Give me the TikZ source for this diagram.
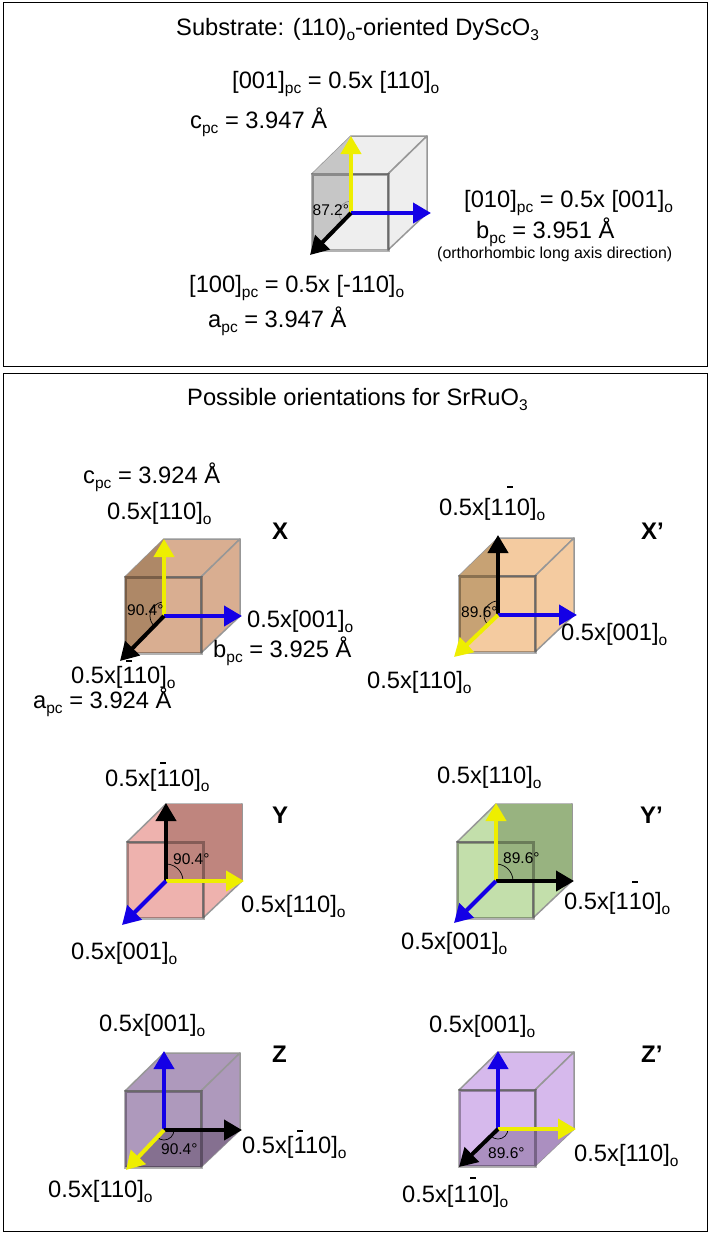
\documentclass[tikz,border=0pt]{standalone}
\usepackage{fontspec}
\setmainfont{Liberation Sans}
\usetikzlibrary{arrows.meta}
\definecolor{subfill}{HTML}{EEEEEE}\definecolor{subshade}{HTML}{C6C6C6}
\definecolor{xfill}{HTML}{D9AE91}\definecolor{xshade}{HTML}{AE8867}
\definecolor{xpfill}{HTML}{F4CBA0}\definecolor{xpshade}{HTML}{C7A274}
\definecolor{yfill}{HTML}{EEB2AE}\definecolor{yshade}{HTML}{BF857E}
\definecolor{ypfill}{HTML}{C3DFAB}\definecolor{ypshade}{HTML}{98B380}
\definecolor{zfill}{HTML}{AE99BC}\definecolor{zshade}{HTML}{857090}
\definecolor{zpfill}{HTML}{D6B9EC}\definecolor{zpshade}{HTML}{AB8FC0}
\definecolor{axyellow}{HTML}{EEEE00}\definecolor{axblue}{HTML}{1400E6}
\definecolor{cubegray}{HTML}{979797}
\tikzset{
  lbl/.style={anchor=base west,inner sep=0pt,font=\fontsize{23.7}{25}\selectfont},
  tag/.style={anchor=base west,inner sep=0pt,font=\fontsize{24}{26}\selectfont\bfseries},
  ang/.style={anchor=base west,inner sep=0pt,font=\fontsize{15.5}{17}\selectfont},
  axis/.style={line width=4pt,-{Triangle[width=20pt,length=18pt]},#1},
  anglearc/.style={line width=.7pt},
  panel/.style={draw=black,line width=1pt},
  thinedge/.style={draw=cubegray,line width=1.5pt,line join=round},
  frontedge/.style={draw=black,draw opacity=.3,line width=3pt}
}
\newcommand\subs[1]{\raisebox{-.22em}{\fontsize{15.5}{16}\selectfont #1}}
\newcommand\barone[1]{\rlap{\raisebox{#1pt}{\hspace{.15em}\rule{.26em}{1.6pt}}}1}
% name, left, top, fill, shade, corners of the shaded face
\newcommand\drawcube[9]{
  \begin{scope}[shift={(#2,#3)}]
    \coordinate (#1ftl) at (0,0); \coordinate (#1ftr) at (76,0);
    \coordinate (#1fbl) at (0,-76); \coordinate (#1fbr) at (76,-76);
    \coordinate (#1btl) at (39,38); \coordinate (#1btr) at (115,38);
    \coordinate (#1bbr) at (115,-39); \coordinate (#1o) at (39,-39);
  \end{scope}
  \fill[#4] (#1ftl) rectangle (#1fbr);
  \filldraw[fill=#4,thinedge] (#1ftl) -- (#1btl) -- (#1btr) -- (#1ftr) -- cycle;
  \filldraw[fill=#4,thinedge,shift={(2pt,-2pt)}] (#1ftr) -- (#1btr) -- (#1bbr) -- (#1fbr) -- cycle;
  \fill[#5] (#1#6) -- (#1#7) -- (#1#8) -- (#1#9) -- cycle;
  \draw[frontedge] (#1ftl) rectangle (#1fbr);
}
\begin{document}
\begin{tikzpicture}[x=1pt,y=1pt]
\useasboundingbox (0,0) rectangle (710,-1234);
\node[panel,minimum width=704pt,minimum height=364pt,anchor=north west,inner sep=0pt] (top) at (3,-2) {};
\node[panel,minimum width=704pt,minimum height=858pt,anchor=north west,inner sep=0pt] (bottom) at (3,-373) {};

% substrate
\drawcube{s}{312}{-174}{subfill}{subshade}{ftl}{btl}{o}{fbl}
\coordinate (sc) at (351,-136); \coordinate (sb) at (431,-213); \coordinate (sa) at (310,-255);
\draw[anglearc,black!45] ([shift={(0pt,12pt)}]so) arc[start angle=90,end angle=225,radius=12pt];
\draw[axis=axyellow] (so) -- (sc);
\draw[axis=axblue] (so) -- (sb);
\draw[axis=black] (so) -- (sa);
\node[lbl] (stitle) at (176,-35) {Substrate: (110)\subs{o}-oriented DyScO\subs{3}};
\node[lbl] (sl1) at (232,-88) {[001]\subs{pc} = 0.5x [110]\subs{o}};
\node[lbl] (sl2) at (190,-128) {c\subs{pc} = 3.947 Å};
\node[lbl] (sl3) at (464,-207) {[010]\subs{pc} = 0.5x [001]\subs{o}};
\node[lbl] (sl4) at (476,-238) {b\subs{pc} = 3.951 Å};
\node[lbl,font=\fontsize{15.9}{17}\selectfont] (sl5) at (437,-258) {(orthorhombic long axis direction)};
\node[lbl] (sl6) at (189,-292) {[100]\subs{pc} = 0.5x [-110]\subs{o}};
\node[lbl] (sl7) at (208,-327) {a\subs{pc} = 3.947 Å};
\node[ang] (sang) at (312.5,-215) {87.2°};

\node[lbl] (ptitle) at (187,-405) {Possible orientations for SrRuO\subs{3}};

% X
\drawcube{x}{125}{-577}{xfill}{xshade}{ftl}{btl}{o}{fbl}
\coordinate (xc) at (164,-539); \coordinate (xb) at (242,-616); \coordinate (xa) at (120,-661);
\draw[anglearc] ([shift={(0pt,14pt)}]xo) arc[start angle=90,end angle=225,radius=14pt];
\draw[axis=axyellow] (xo) -- (xc);
\draw[axis=axblue] (xo) -- (xb);
\draw[axis=black] (xo) -- (xa);
\node[lbl] (xl1) at (83,-483) {c\subs{pc} = 3.924 Å};
\node[lbl] (xl2) at (107,-519) {0.5x[110]\subs{o}};
\node[tag] (xtag) at (272,-539) {X};
\node[lbl] (xl3) at (247,-627) {0.5x[001]\subs{o}};
\node[lbl] (xl4) at (213,-657) {b\subs{pc} = 3.925 Å};
\node[lbl] (xl5) at (71,-683) {0.5x[\barone{21}10]\subs{o}};
\node[lbl] (xl6) at (33,-708) {a\subs{pc} = 3.924 Å};
\node[ang] (xang) at (127,-615) {90.4°};

% X'
\drawcube{xp}{459}{-576}{xpfill}{xpshade}{ftl}{btl}{o}{fbl}
\coordinate (xpc) at (498,-535); \coordinate (xpb) at (577,-615); \coordinate (xpa) at (454,-657);
\draw[anglearc] ([shift={(0pt,14pt)}]xpo) arc[start angle=90,end angle=225,radius=14pt];
\draw[axis=black] (xpo) -- (xpc);
\draw[axis=axblue] (xpo) -- (xpb);
\draw[axis=axyellow] (xpo) -- (xpa);
\node[lbl] (xpl1) at (439,-515) {0.5x[1\barone{27}0]\subs{o}};
\node[tag] (xptag) at (641,-539) {X’};
\node[lbl] (xpl2) at (561,-640) {0.5x[001]\subs{o}};
\node[lbl] (xpl3) at (367,-688) {0.5x[110]\subs{o}};
\node[ang] (xpang) at (461,-617) {89.6°};

% Y
\drawcube{y}{127}{-842}{yfill}{yshade}{btl}{btr}{bbr}{o}
\coordinate (yc) at (166,-803); \coordinate (yb) at (244,-881); \coordinate (ya) at (122,-925);
\draw[anglearc] ([shift={(0pt,17pt)}]yo) arc[start angle=90,end angle=0,radius=17pt];
\draw[axis=black] (yo) -- (yc);
\draw[axis=axyellow] (yo) -- (yb);
\draw[axis=axblue] (yo) -- (ya);
\node[lbl] (yl1) at (105,-786) {0.5x[\barone{22}10]\subs{o}};
\node[tag] (ytag) at (272,-823) {Y};
\node[lbl] (yl2) at (241,-912) {0.5x[110]\subs{o}};
\node[lbl] (yl3) at (71,-959) {0.5x[001]\subs{o}};
\node[ang] (yang) at (173,-864) {90.4°};

% Y'
\drawcube{yp}{457}{-842}{ypfill}{ypshade}{btl}{btr}{bbr}{o}
\coordinate (ypc) at (496,-803); \coordinate (ypb) at (574,-881); \coordinate (ypa) at (454,-923);
\draw[anglearc] ([shift={(0pt,17pt)}]ypo) arc[start angle=90,end angle=0,radius=17pt];
\draw[axis=axyellow] (ypo) -- (ypc);
\draw[axis=black] (ypo) -- (ypb);
\draw[axis=axblue] (ypo) -- (ypa);
\node[lbl] (ypl1) at (437,-783) {0.5x[110]\subs{o}};
\node[tag] (yptag) at (640,-823) {Y’};
\node[lbl] (ypl2) at (564,-909) {0.5x[1\barone{26}0]\subs{o}};
\node[lbl] (ypl3) at (401,-949) {0.5x[001]\subs{o}};
\node[ang] (ypang) at (503,-863) {89.6°};

% Z
\drawcube{z}{125}{-1091}{zfill}{zshade}{fbl}{o}{bbr}{fbr}
\coordinate (zc) at (164,-1051); \coordinate (zb) at (242,-1130); \coordinate (za) at (126,-1170);
\draw[anglearc] ([shift={(10pt,0pt)}]zo) arc[start angle=0,end angle=-135,radius=10pt];
\draw[axis=axblue] (zo) -- (zc);
\draw[axis=black] (zo) -- (zb);
\draw[axis=axyellow] (zo) -- (za);
\node[lbl] (zl1) at (99,-1031) {0.5x[001]\subs{o}};
\node[tag] (ztag) at (272,-1062) {Z};
\node[lbl] (zl2) at (242,-1153) {0.5x[\barone{21}10]\subs{o}};
\node[lbl] (zl3) at (48,-1197) {0.5x[110]\subs{o}};
\node[ang] (zang) at (161,-1154) {90.4°};

% Z'
\drawcube{zp}{459}{-1090}{zpfill}{zpshade}{fbl}{o}{bbr}{fbr}
\coordinate (zpc) at (498,-1051); \coordinate (zpb) at (576,-1129); \coordinate (zpa) at (459,-1167);
\draw[anglearc] ([shift={(10pt,0pt)}]zpo) arc[start angle=0,end angle=-135,radius=10pt];
\draw[axis=axblue] (zpo) -- (zpc);
\draw[axis=axyellow] (zpo) -- (zpb);
\draw[axis=black] (zpo) -- (zpa);
\node[lbl] (zpl1) at (429,-1032) {0.5x[001]\subs{o}};
\node[tag] (zptag) at (641,-1062) {Z’};
\node[lbl] (zpl2) at (574,-1161) {0.5x[110]\subs{o}};
\node[lbl] (zpl3) at (402,-1202) {0.5x[1\barone{23}0]\subs{o}};
\node[ang] (zpang) at (488,-1158) {89.6°};
\end{tikzpicture}
\end{document}
